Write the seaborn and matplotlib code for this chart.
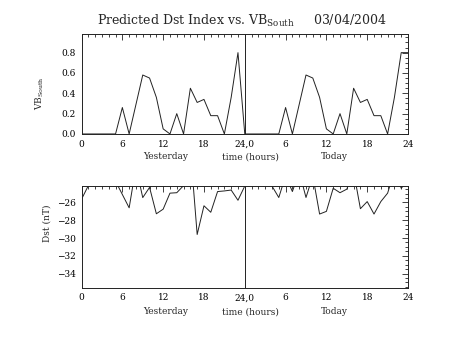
import matplotlib
matplotlib.use("Agg")
import matplotlib.pyplot as plt
import matplotlib.transforms as mtransforms
from matplotlib.ticker import MultipleLocator
import seaborn as sns
import pandas as pd

# ---------------- data ----------------
hours = list(range(49))
vb_south = [0, 0, 0, 0, 0, 0, 0.26, 0, 0.29, 0.58, 0.55, 0.36, 0.05, 0, 0.20, 0,
            0.45, 0.31, 0.34, 0.18, 0.18, 0, 0.36, 0.80,
            0, 0, 0, 0, 0, 0, 0.26, 0, 0.29, 0.58, 0.55, 0.36, 0.05, 0, 0.20, 0,
            0.45, 0.31, 0.34, 0.18, 0.18, 0, 0.36, 0.80, 0.80]
dst = [-25.63, -24.1, -23.5, -23.5, -23.5, -23.6, -25.1, -26.6, -22.0, -25.45,
       -24.3, -27.27, -26.75, -24.95, -24.9, -24.1, -20.0, -29.6, -26.37, -27.1,
       -24.77, -24.7, -24.6, -25.75,
       -24.15, -23.5, -23.5, -23.5, -24.15, -25.44, -23.0, -24.77, -22.5, -25.44,
       -23.0, -27.3, -27.0, -24.4, -24.9, -24.5, -22.5, -26.7, -25.9, -27.3,
       -25.9, -24.95, -22.45, -24.4, -23.5]
x_ticks = [0, 6, 12, 18, 24, 30, 36, 42, 48]
x_ticklabels = ["0", "6", "12", "18", "24,0", "6", "12", "18", "24"]
vb_ticks = [0.0, 0.2, 0.4, 0.6, 0.8]
vb_ticklabels = ["0.0", "0.2", "0.4", "0.6", "0.8"]
dst_ticks = [-26, -28, -30, -32, -34]
dst_ticklabels = ["\u221226", "\u221228", "\u221230", "\u221232", "\u221234"]
day_labels = ["Yesterday", "time (hours)", "Today"]
day_label_x = [12.3, 24.8, 37.2]
title = "Predicted Dst Index vs. VB$_{South}$     03/04/2004"

df = pd.DataFrame({"hour": hours, "vb": vb_south, "dst": dst})

# ---------------- style ----------------
sns.set_theme(style="white")
plt.rcParams["font.family"] = ["DejaVu Serif"]
plt.rcParams["mathtext.fontset"] = "dejavuserif"
plt.rcParams["mathtext.default"] = "regular"

fig = plt.figure(figsize=(4.53, 3.40), dpi=100)
fig.patch.set_facecolor("white")
ax1 = fig.add_axes([0.180, 0.606, 0.7207, 0.293])
ax2 = fig.add_axes([0.180, 0.1535, 0.7207, 0.298])

lc = "#222222"
for ax, col in ((ax1, "vb"), (ax2, "dst")):
    sns.lineplot(data=df, x="hour", y=col, ax=ax, color=lc, linewidth=0.7,
                 estimator=None)
    ax.axvline(24, color=lc, linewidth=0.7)
    ax.set_xlim(0, 48)
    ax.set_xticks(x_ticks)
    ax.set_xticklabels(x_ticklabels)
    ax.xaxis.set_minor_locator(MultipleLocator(1))
    ax.set_xlabel("")
    ax.set_ylabel("")
    ax.tick_params(which="both", direction="in", top=True, right=True,
                   color=lc, width=0.6, labelsize=6.5, pad=4, labelcolor="black")
    ax.tick_params(which="major", length=4)
    ax.tick_params(which="minor", length=2)
    for s in ax.spines.values():
        s.set_color(lc)
        s.set_linewidth(0.7)
    tr = mtransforms.blended_transform_factory(ax.transData, ax.transAxes)
    ypos = -0.23 if ax is ax1 else -0.236
    for lab, xx in zip(day_labels, day_label_x):
        ax.text(xx, ypos, lab, transform=tr, ha="center", va="center",
                fontsize=6.5)

ax1.set_ylim(0, 0.98)
ax1.set_yticks(vb_ticks)
ax1.set_yticklabels(vb_ticklabels)
ax1.yaxis.set_minor_locator(MultipleLocator(0.05))

ax2.set_ylim(-35.6, -24.2)
ax2.set_yticks(dst_ticks)
ax2.set_yticklabels(dst_ticklabels)
ax2.yaxis.set_minor_locator(MultipleLocator(0.5))

fig.text(40 / 453, 1 - 93 / 340, "VB$_{South}$", rotation=90, ha="center",
         va="center", fontsize=6.5)
fig.text(47 / 453, 1 - 223 / 340, "Dst (nT)", rotation=90, ha="center",
         va="center", fontsize=6.5)
fig.text(242 / 453, 1 - 21 / 340, title, ha="center", va="center", fontsize=9)

fig.savefig("out.png", dpi=100, facecolor="white")
